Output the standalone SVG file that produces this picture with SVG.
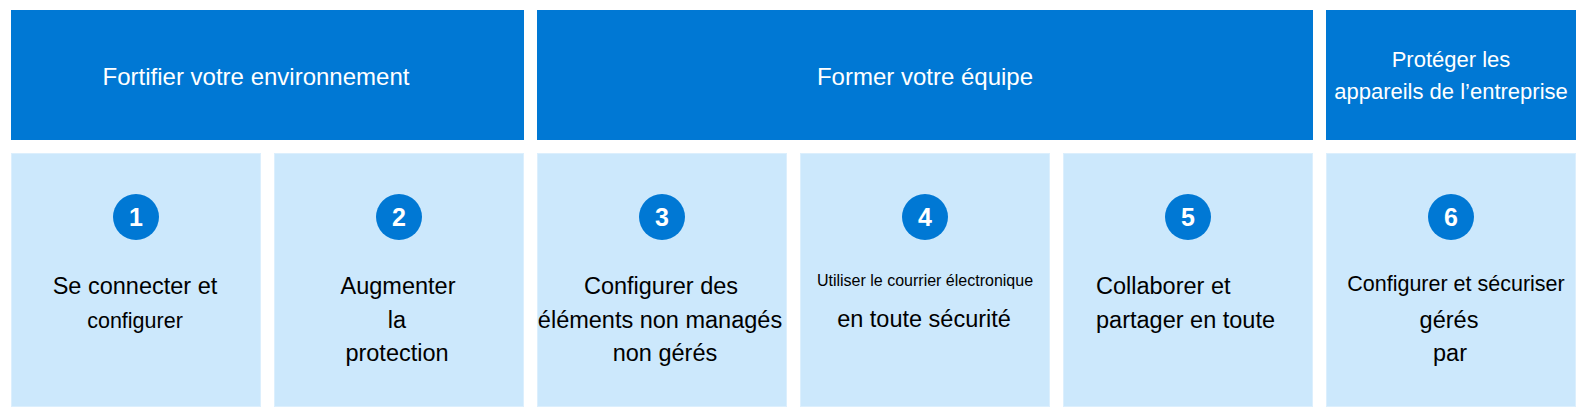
<svg xmlns="http://www.w3.org/2000/svg" width="1586" height="418" viewBox="0 0 1586 418">
<style>
.hdr{fill:#0078D4}
.box{fill:#CCE8FC;stroke:#DCEFFD;stroke-width:1}
.num{fill:#0078D4}
.ht{font-family:"Liberation Sans",Arial,sans-serif;fill:#FFFFFF;text-anchor:middle}
.bt{font-family:"Liberation Sans",Arial,sans-serif;fill:#000000;text-anchor:middle;font-size:23.5px}
.st{text-anchor:start}
.sm{font-size:21.5px}
.xs{font-size:16px}
.nt{font-family:"Liberation Sans",Arial,sans-serif;fill:#FFFFFF;text-anchor:middle;font-size:25px;font-weight:bold}
</style>
<rect width="1586" height="418" fill="#FFFFFF"/>
<g id="header-fortifier">
<rect class="hdr" x="11" y="10" width="513" height="130"/>
<text class="ht" x="256" y="85" font-size="24">Fortifier votre environnement</text>
</g>
<g id="header-former">
<rect class="hdr" x="537" y="10" width="776" height="130"/>
<text class="ht" x="925" y="85" font-size="24">Former votre équipe</text>
</g>
<g id="header-proteger">
<rect class="hdr" x="1326" y="10" width="250" height="130"/>
<text class="ht" x="1451" y="67" font-size="22">Protéger les</text>
<text class="ht" x="1451" y="99" font-size="22">appareils de l’entreprise</text>
</g>
<g id="step-1">
<rect class="box" x="11.5" y="153.5" width="249" height="253"/>
<circle class="num" cx="136" cy="217" r="23"/>
<text class="nt" x="136" y="226">1</text>
<text class="bt" x="135" y="294">Se connecter et</text>
<text class="bt sm" x="135" y="328">configurer</text>
</g>
<g id="step-2">
<rect class="box" x="274.5" y="153.5" width="249" height="253"/>
<circle class="num" cx="399" cy="217" r="23"/>
<text class="nt" x="399" y="226">2</text>
<text class="bt" x="398" y="294">Augmenter</text>
<text class="bt" x="397" y="328">la</text>
<text class="bt" x="397" y="361">protection</text>
</g>
<g id="step-3">
<rect class="box" x="537.5" y="153.5" width="249" height="253"/>
<circle class="num" cx="662" cy="217" r="23"/>
<text class="nt" x="662" y="226">3</text>
<text class="bt" x="661" y="294">Configurer des</text>
<text class="bt" x="660" y="328">éléments non managés</text>
<text class="bt" x="665" y="361">non gérés</text>
</g>
<g id="step-4">
<rect class="box" x="800.5" y="153.5" width="249" height="253"/>
<circle class="num" cx="925" cy="217" r="23"/>
<text class="nt" x="925" y="226">4</text>
<text class="bt xs" x="925" y="286">Utiliser le courrier électronique</text>
<text class="bt" x="924" y="327">en toute sécurité</text>
</g>
<g id="step-5">
<rect class="box" x="1063.5" y="153.5" width="249" height="253"/>
<circle class="num" cx="1188" cy="217" r="23"/>
<text class="nt" x="1188" y="226">5</text>
<text class="bt st" x="1096" y="294">Collaborer et</text>
<text class="bt st" x="1096" y="328">partager en toute</text>
</g>
<g id="step-6">
<rect class="box" x="1326.5" y="153.5" width="249" height="253"/>
<circle class="num" cx="1451" cy="217" r="23"/>
<text class="nt" x="1451" y="226">6</text>
<text class="bt sm" x="1456" y="291">Configurer et sécuriser</text>
<text class="bt" x="1449" y="328">gérés</text>
<text class="bt" x="1450" y="361">par</text>
</g>
<g id="connectors"/>
</svg>
